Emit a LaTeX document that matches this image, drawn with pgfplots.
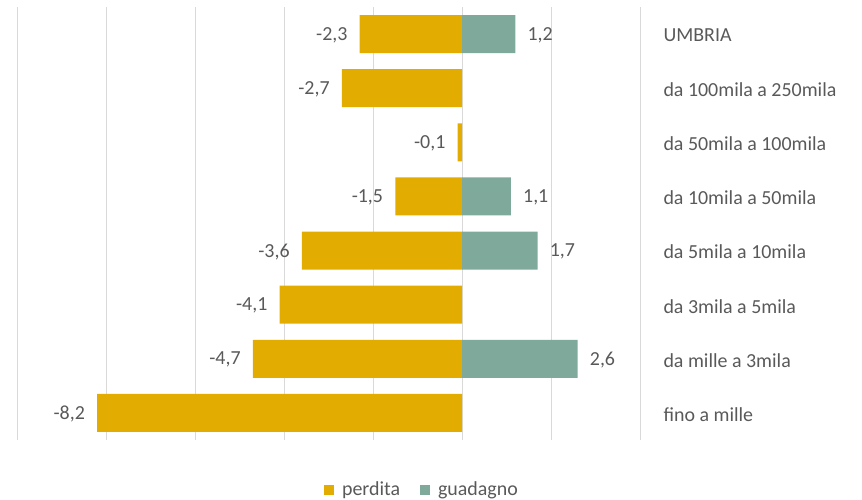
\documentclass[border=0pt]{standalone}
\usepackage{fontspec}
\setmainfont{Carlito}
\usepackage{pgfplots}
\pgfplotsset{compat=1.18}
\definecolor{perd}{HTML}{E3AC00}
\definecolor{guad}{HTML}{7FA99B}
\definecolor{txt}{HTML}{595959}
\definecolor{grd}{HTML}{D9D9D9}
\newcommand{\lbl}{\fontsize{20}{24}\selectfont}
\begin{document}
\begin{tikzpicture}[x=1bp,y=1bp]
\useasboundingbox (0,0) rectangle (862,500);
\begin{axis}[
 at={(17bp,60bp)}, anchor=south west,
 scale only axis, width=623bp, height=433bp,
 xmin=-10, xmax=4, ymin=-0.5, ymax=7.5,
 xtick={-10,-8,...,4}, xticklabels={},
 xmajorgrids, grid style={grd, line width=1pt},
 axis line style={draw=none},
 major tick length=0pt,
 ytick={0,...,7},
 yticklabels={fino a mille, da mille a 3mila, da 3mila a 5mila, da 5mila a 10mila, da 10mila a 50mila, da 50mila a 100mila, da 100mila a 250mila, UMBRIA},
 yticklabel pos=right,
 yticklabel style={anchor=west, xshift=20bp, yshift=-1.5bp, font=\lbl, text=txt},
 xbar, bar width=38bp, bar shift=0pt,
 /pgf/number format/assume math mode=true,
 nodes near coords={\pgfmathprintnumber[use comma,fixed,precision=1,fixed zerofill]{\pgfplotspointmeta}},
 nodes near coords style={font=\lbl, text=txt, inner sep=0pt},
 legend style={at={(0.65,-0.115)}, anchor=center, draw=none, fill=none, legend columns=-1, font=\lbl, text=txt,
   /tikz/every odd column/.append style={column sep=6bp},
   /tikz/every even column/.append style={column sep=18bp}},
 legend image code/.code={\fill[#1, draw=none] (0bp,-5bp) rectangle (10bp,5bp);},
 clip=false,
]
\addplot[fill=perd, draw=none, every node near coord/.append style={anchor=east, xshift=-12bp, yshift=-1bp}] coordinates {
 (-8.2,0) (-4.7,1) (-4.1,2) (-3.6,3) (-1.5,4) (-0.1,5) (-2.7,6) (-2.3,7)};
\addplot[fill=guad, draw=none, every node near coord/.append style={anchor=west, xshift=12bp, yshift=-1bp}] coordinates {
 (2.6,1) (1.7,3) (1.1,4) (1.2,7)};
\legend{perdita, guadagno}
\end{axis}
\end{tikzpicture}
\end{document}
